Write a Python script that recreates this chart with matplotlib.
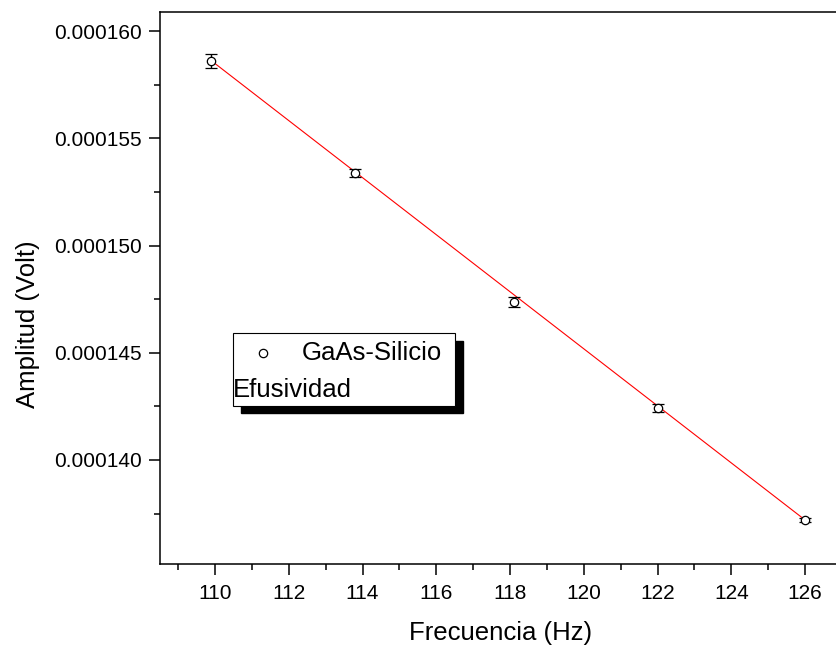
import matplotlib
matplotlib.use("Agg")
import matplotlib.pyplot as plt
from matplotlib.patches import Rectangle
from matplotlib.ticker import MultipleLocator, FormatStrFormatter

plt.rcParams['font.family'] = ['Liberation Sans', 'DejaVu Sans']

# frequency sweep, amplitude and its uncertainty
freq = [109.9, 113.8, 118.12, 122.02, 126.0]
amp = [1.5860e-4, 1.5340e-4, 1.4737e-4, 1.4244e-4, 1.3720e-4]
amp_err = [0.31e-6, 0.19e-6, 0.23e-6, 0.19e-6, 0.10e-6]

# linear fit drawn over the measured range
fit_x = [109.9, 126.0]
fit_y = [1.5862e-4, 1.3720e-4]

fig = plt.figure(figsize=(8.36, 6.47), dpi=100)
ax = fig.add_axes([0.1914, 0.1283, 0.8158, 0.8532])

ax.plot(fit_x, fit_y, color='red', lw=0.8, zorder=2)
ax.errorbar(freq, amp, yerr=amp_err, fmt='o', ms=6, mfc='white', mec='black',
            mew=0.9, ecolor='black', elinewidth=1.0, capsize=4.5, capthick=1.0,
            zorder=3)

ax.set_xlim(108.51, 127.0)
ax.set_ylim(1.3515e-4, 1.6089e-4)

ax.xaxis.set_major_locator(MultipleLocator(2))
ax.xaxis.set_minor_locator(MultipleLocator(1))
ax.yaxis.set_major_locator(MultipleLocator(5e-6))
ax.yaxis.set_minor_locator(MultipleLocator(2.5e-6))
ax.yaxis.set_major_formatter(FormatStrFormatter('%.6f'))

ax.tick_params(which='major', direction='out', length=8, width=1.1,
               labelsize=15, pad=5)
ax.tick_params(axis='x', which='major', pad=6.5)
ax.tick_params(which='minor', direction='out', length=4, width=1.1)
ax.tick_params(top=False, right=False, which='both')
for s in ax.spines.values():
    s.set_linewidth(1.1)

ax.set_xlabel('Frecuencia (Hz)', fontsize=18.5, labelpad=13)
ax.set_ylabel('Amplitud (Volt)', fontsize=18.5)
ax.yaxis.set_label_coords(-0.176, 0.435)

# legend box with a solid drop shadow
bx, by, bw, bh = 0.1066, 0.2862, 0.326, 0.1317
ax.add_patch(Rectangle((bx + 0.0117, by - 0.0135), bw, bh, transform=ax.transAxes,
                       facecolor='black', edgecolor='black', zorder=5))
ax.add_patch(Rectangle((bx, by), bw, bh, transform=ax.transAxes,
                       facecolor='white', edgecolor='black', lw=0.8, zorder=6))
ax.plot([0.151], [0.3822], 'o', ms=6, mfc='white', mec='black', mew=0.9,
        transform=ax.transAxes, zorder=7, clip_on=False)
ax.text(0.2082, 0.3822, 'GaAs-Silicio', transform=ax.transAxes, fontsize=18.5,
        va='center', ha='left', zorder=7)
ax.text(0.1075, 0.3152, 'Efusividad', transform=ax.transAxes, fontsize=18.5,
        va='center', ha='left', zorder=7)

fig.savefig('out.png', dpi=100)
